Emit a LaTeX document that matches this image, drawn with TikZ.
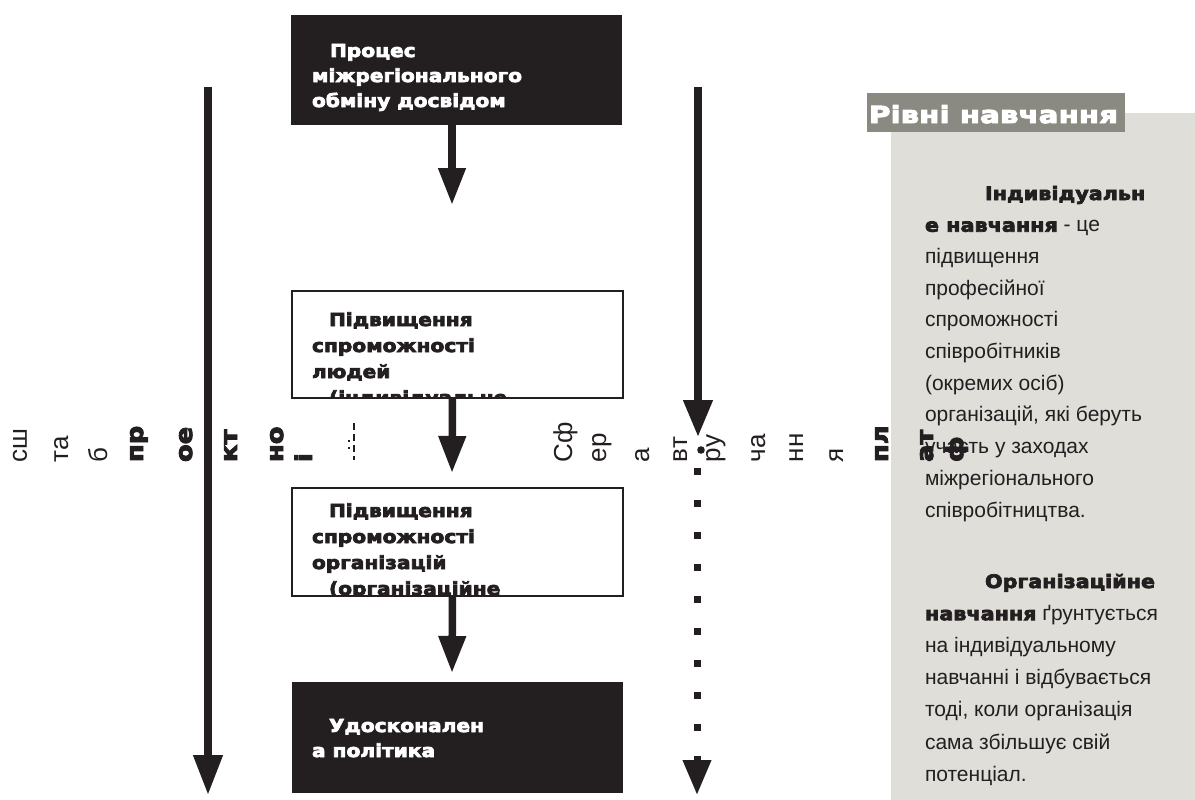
\documentclass[tikz,border=0pt]{standalone}
\usepackage{fontspec}
\setmainfont{Liberation Sans}
\newfontfamily\blk{DejaVu Sans Bold}[FakeStretch=1.12,FakeBold=4]
\newfontfamily\blkw{DejaVu Sans Bold}[FakeStretch=1.25,FakeBold=4]
\usetikzlibrary{arrows.meta}
\definecolor{ink}{HTML}{231F20}
\definecolor{hdr}{HTML}{8A8A82}
\definecolor{pnl}{HTML}{DFDED9}
\begin{document}
\begin{tikzpicture}[x=1pt,y=-1pt,
  box/.style={minimum width=331pt, minimum height=#1, inner sep=0pt, outer sep=0pt, anchor=north west},
  darkbox/.style={box=#1, fill=ink},
  lightbox/.style={box=#1, draw=ink, line width=1.5pt, fill=white},
  txt/.style={inner sep=0pt, outer sep=0pt, anchor=base west},
  bt/.style={txt, font=\blk\fontsize{18}{20}\selectfont},
  pt/.style={txt, text=ink, font=\fontsize{21}{24}\selectfont},
  pb/.style={txt, text=ink, font=\blk\fontsize{18.5}{20}\selectfont},
  vr/.style={txt, rotate=90, text=ink, font=\fontsize{26}{30}\selectfont},
  vb/.style={txt, rotate=90, text=ink, font=\blk\fontsize{23}{27}\selectfont},
  arr/.style={draw=ink, line width=7.5pt, -{Triangle[width=26pt,length=37pt]}}
]
\useasboundingbox (0,0) rectangle (1195,800);
\fill[white] (0,0) rectangle (1195,800);

% right panel
\node[box=687pt, minimum width=304pt, fill=pnl] (panel) at (891,113) {};
\node[box=39pt, minimum width=258pt, fill=hdr] (hdr) at (867,93) {};
\node[txt, text=white, font=\blkw\fontsize{23.5}{26}\selectfont] (hdrt) at (869,123) {Рівні навчання};

% boxes
\node[darkbox=110pt] (b1) at (291,15) {};
\node[lightbox=107pt] (b2) at (292,291) {};
\node[lightbox=108pt] (b3) at (292,488) {};
\node[darkbox=111pt] (b4) at (292,682) {};

% box texts
\node[bt, text=white] (b1a) at (330,57) {Процес};
\node[bt, text=white] (b1b) at (312,82) {міжрегіонального};
\node[bt, text=white] (b1c) at (312,107) {обміну досвідом};

\begin{scope}
\clip (292,291) rectangle (622,397);
\node[bt, text=ink] (b2a) at (329,326) {Підвищення};
\node[bt, text=ink] (b2b) at (312,352) {спроможності};
\node[bt, text=ink] (b2c) at (312,378) {людей};
\node[bt, text=ink] (b2d) at (329,404) {(індивідуальне};
\end{scope}

\begin{scope}
\clip (292,488) rectangle (622,595);
\node[bt, text=ink] (b3a) at (329,517) {Підвищення};
\node[bt, text=ink] (b3b) at (312,543) {спроможності};
\node[bt, text=ink] (b3c) at (312,569) {організацій};
\node[bt, text=ink] (b3d) at (329,595) {(організаційне};
\end{scope}

\node[bt, text=white] (b4a) at (329,732) {Удосконален};
\node[bt, text=white] (b4b) at (312,757) {а політика};

% arrows between boxes
\coordinate (a1) at (452,205);
\coordinate (a2) at (452,473);
\coordinate (a3) at (452,673);
\draw[arr] ([xshift=-4.5pt]b1.south) -- (a1);
\draw[arr] ([xshift=-5pt]b2.south) -- (a2);
\draw[arr] ([xshift=-5pt]b3.south) -- (a3);

% long arrows
\coordinate (lt) at (208,87);
\coordinate (lb) at (208,795);
\draw[arr, -{Triangle[width=28pt,length=40pt]}] (lt) -- (lb);
\coordinate (mt) at (698,87);
\coordinate (mb) at (698,437);
\draw[arr, -{Triangle[width=28pt,length=37pt]}] (mt) -- (mb);
\coordinate (dt) at (697,468);
\coordinate (db) at (697,795);
\draw[arr, line width=7pt, dash pattern=on 7pt off 25pt, -{Triangle[width=27pt,length=35pt]}] (dt) -- (db);
\fill[ink] (701,450) circle (3.8pt);

% vertical fragments (left)
\node[vr] (v1) at (27,462) {сш};
\node[vr] (v2) at (68,462) {та};
\node[vr] (v3) at (107,462) {б};
\node[vb] (v4) at (143,462) {пр};
\node[vb] (v5) at (192,462) {ое};
\node[vb] (v6) at (237,462) {кт};
\node[vb] (v7) at (283,462) {но};
\node[vb] (v8) at (312,462) {і};
\draw[ink, line width=1.2pt, dash pattern=on 7pt off 4pt] (354,423) -- (354,460);
\draw[ink, line width=1.2pt, dash pattern=on 2pt off 5pt] (349,440) -- (349,452);

% vertical fragments (middle)
\node[vr] (w1) at (572,462) {Сф};
\node[vr] (w2) at (606,462) {ер};
\node[vr] (w3) at (649,462) {а};
\node[vr] (w4) at (687,462) {вт};
\node[vr] (w5) at (720,462) {ру};
\node[vr] (w6) at (765,462) {ча};
\node[vr] (w7) at (803,462) {нн};
\node[vr] (w8) at (843,462) {я};
\node[vb] (w9) at (888,462) {пл};
\node[vb] (w10) at (933,462) {ат};

% panel text, paragraph 1
\node[pb] (p1) at (985,200) {Індивідуальн};
\node[pt] (p2) at (925,231.7) {{\blk\fontsize{18.5}{20}\selectfont е навчання} - це};
\node[pt] (p3) at (925,263.4) {підвищення};
\node[pt] (p4) at (925,295.1) {професійної};
\node[pt] (p5) at (925,326.8) {спроможності};
\node[pt] (p6) at (925,358.5) {співробітників};
\node[pt] (p7) at (925,390.2) {(окремих осіб)};
\node[pt] (p8) at (925,421.9) {організацій, які беруть};
\node[pt] (p9) at (925,453.6) {участь у заходах};
\node[pt] (p10) at (925,485.3) {міжрегіонального};
\node[pt] (p11) at (925,517) {співробітництва.};
\node[vb] (w11) at (963,462) {ф};

% panel text, paragraph 2
\node[pb] (q1) at (985,588) {Організаційне};
\node[pt] (q2) at (925,620.2) {{\blk\fontsize{18.5}{20}\selectfont навчання} ґрунтується};
\node[pt] (q3) at (925,652.4) {на індивідуальному};
\node[pt] (q4) at (925,684.6) {навчанні і відбувається};
\node[pt] (q5) at (925,716.8) {тоді, коли організація};
\node[pt] (q6) at (925,749) {сама збільшує свій};
\node[pt] (q7) at (925,781.2) {потенціал.};
\end{tikzpicture}
\end{document}
